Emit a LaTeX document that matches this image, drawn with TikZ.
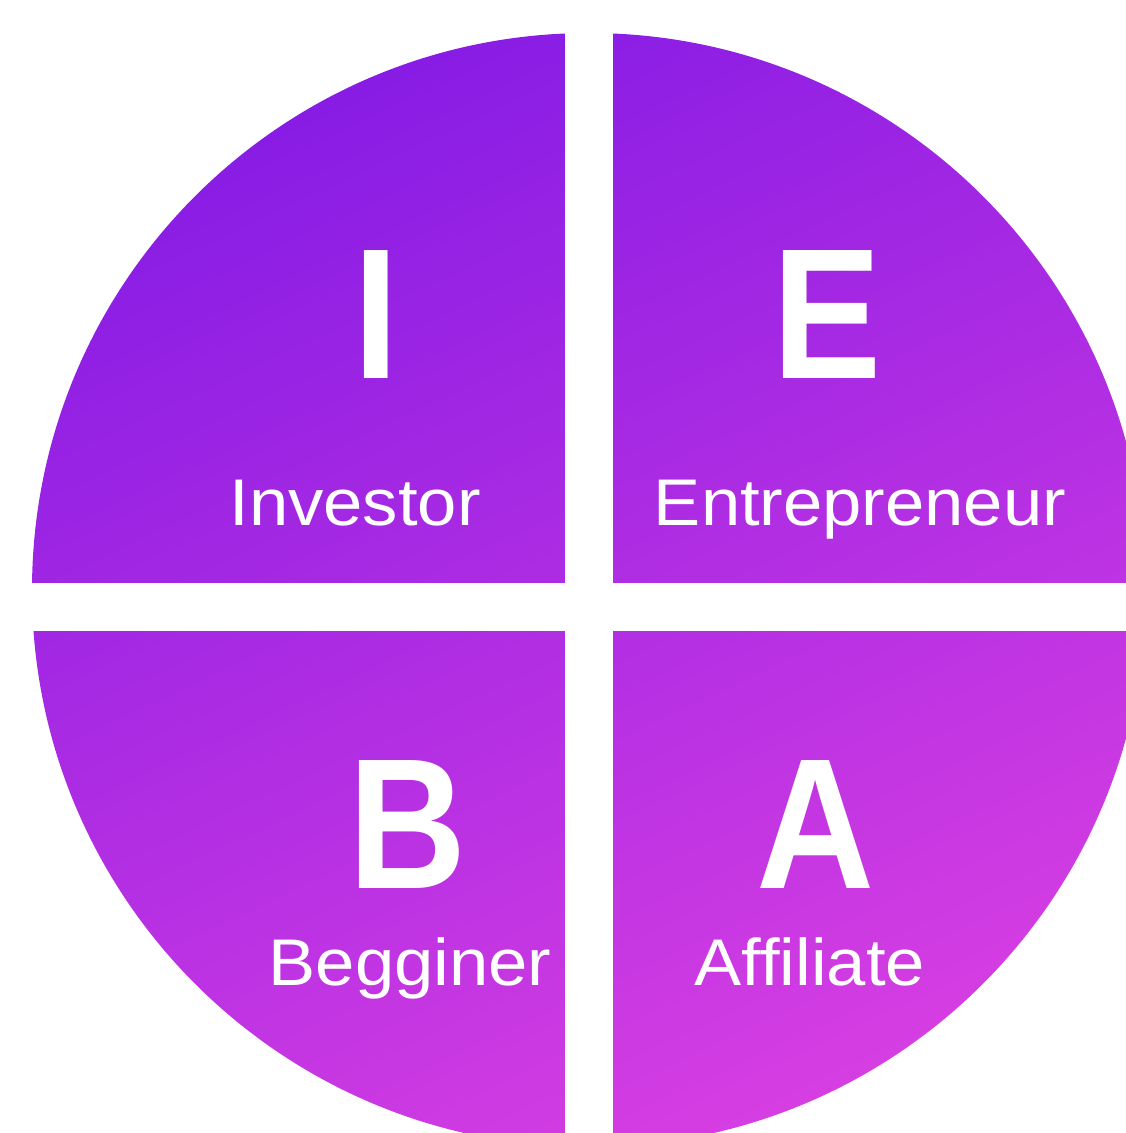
\documentclass[tikz,border=0pt]{standalone}
\usepackage{fontspec}
\setmainfont{Liberation Sans}
\newfontfamily\letterfont[FakeStretch=0.88]{Liberation Sans}
\newfontfamily\capfont[FakeStretch=1.07]{Liberation Sans}
\definecolor{violettop}{RGB}{136,28,228}
\definecolor{magentabot}{RGB}{214,62,226}
\tikzset{
  letter/.style={text=white, anchor=base, inner sep=0pt,
    font=\letterfont\fontsize{186}{186}\selectfont\bfseries},
  caption/.style={text=white, anchor=base, inner sep=0pt,
    font=\capfont\fontsize{66}{70}\selectfont}}

\begin{document}
\begin{tikzpicture}[x=1pt,y=-1pt]
  \useasboundingbox (0,0) rectangle (1126,1133);
  \clip (0,0) rectangle (1126,1133);
  % disc: centre (589,590), radius 557, cut by the frame
  \shade[top color=violettop, bottom color=magentabot, shading angle=25]
    (589,590) circle[radius=557];
  % white cross between the quadrants
  \fill[white] (565,0) rectangle (613,1133);
  \fill[white] (0,583) rectangle (1126,631);
  % quadrant letters and captions
  \node[letter]  (ltrI) at (376,378) {I};
  \node[letter]  (ltrE) at (827,378) {E};
  \node[letter]  (ltrB) at (408,888) {B};
  \node[letter]  (ltrA) at (816,888) {A};
  \node[caption] (capI) at (355,525) {Investor};
  \node[caption] (capE) at (860,525) {Entrepreneur};
  \node[caption] (capB) at (410,985) {Begginer};
  \node[caption] (capA) at (810,985) {Affiliate};
\end{tikzpicture}
\end{document}
